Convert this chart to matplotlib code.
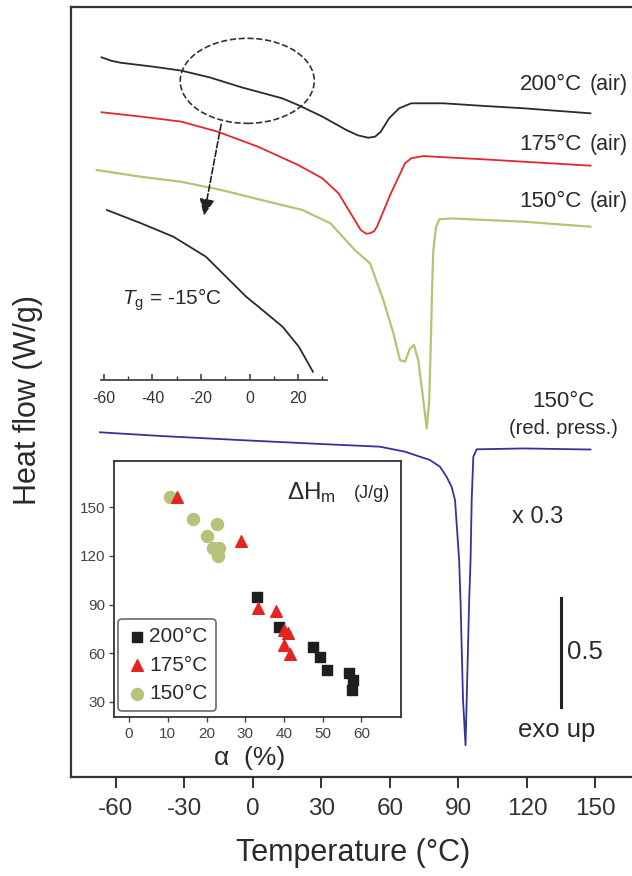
import matplotlib
matplotlib.use("Agg")
import matplotlib.pyplot as plt
from matplotlib.patches import Ellipse

plt.rcParams['font.family'] = ['Liberation Sans', 'DejaVu Sans']
plt.rcParams['mathtext.fontset'] = 'custom'
plt.rcParams['mathtext.rm'] = 'Liberation Sans'
plt.rcParams['mathtext.it'] = 'Liberation Sans:italic'
plt.rcParams['axes.unicode_minus'] = False

# DSC curves: temperature (°C) and heat flow (W/g, curves offset)
t_200 = [-66.3, -62.0, -57.9, -43.7, -31.4, -19.0, -4.9, 12.8, 19.8, 30.4, 41.0, 46.0, 50.5,
         53.5, 56.0, 59.6, 64.0, 69.3, 83.4, 101.0, 118.7, 147.8]
hf_200 = [3.306, 3.290, 3.281, 3.263, 3.245, 3.214, 3.168, 3.118, 3.087, 3.034, 2.972, 2.948, 2.937,
          2.942, 2.965, 3.026, 3.072, 3.095, 3.095, 3.083, 3.072, 3.049]

t_175 = [-66.3, -49.0, -31.4, -15.5, 2.2, 19.8, 30.4, 37.5, 42.8, 47.2, 49.5, 51.3, 53.0, 54.3,
         60.4, 66.6, 69.3, 74.5, 101.0, 147.8]
hf_175 = [3.054, 3.034, 3.011, 2.965, 2.896, 2.812, 2.751, 2.682, 2.590, 2.514, 2.497, 2.499, 2.508,
          2.529, 2.682, 2.820, 2.843, 2.853, 2.838, 2.809]

t_150 = [-68.4, -49.0, -31.4, -13.7, 3.9, 21.6, 34.0, 44.6, 51.3, 57.1, 61.5, 64.4, 66.6,
         68.8, 70.5, 72.4, 74.6, 76.1, 77.2, 78.0, 78.5, 79.0, 80.2, 81.6, 86.9, 118.7, 147.8]
hf_150 = [2.789, 2.758, 2.735, 2.697, 2.651, 2.606, 2.544, 2.422, 2.361, 2.193, 2.040, 1.917, 1.910,
          1.971, 1.986, 1.917, 1.734, 1.604, 1.734, 2.040, 2.269, 2.422, 2.529, 2.563, 2.567, 2.552, 2.529]

t_red = [-67.0, -40.2, -4.9, 30.4, 55.6, 66.6, 77.5, 81.9, 84.8, 87.0, 88.5, 90.3, 90.9, 92.0,
         93.1, 93.6, 94.7, 95.3, 95.8, 96.5, 98.0, 118.7, 147.8]
hf_red = [1.586, 1.569, 1.550, 1.532, 1.520, 1.497, 1.459, 1.428, 1.382, 1.336, 1.275, 1.000, 0.814,
          0.358, 0.151, 0.358, 0.817, 1.000, 1.275, 1.474, 1.508, 1.512, 1.507]

# zoomed glass transition (inset)
t_tg = [-58.8, -44.7, -31.4, -18.0, -9.7, -1.4, 5.3, 13.6, 20.3, 26.1]
hf_tg = [1.70, 1.567, 1.433, 1.233, 1.033, 0.833, 0.70, 0.533, 0.333, 0.083]

# melting enthalpy vs. alpha (inset)
alpha_200 = [33.0, 38.7, 47.6, 49.2, 51.2, 56.9, 57.7, 57.5]
dh_200 = [94.8, 75.9, 63.6, 57.8, 49.6, 47.5, 43.4, 37.2]
alpha_175 = [12.3, 28.8, 33.2, 37.9, 40.0, 41.1, 40.0, 41.6]
dh_175 = [156.5, 129.4, 88.0, 86.2, 74.3, 72.2, 65.0, 59.3]
alpha_150 = [10.6, 16.6, 22.6, 20.2, 21.6, 23.1, 22.9]
dh_150 = [156.2, 142.8, 139.5, 132.3, 124.7, 124.7, 119.9]

W, H = 632, 876
fig = plt.figure(figsize=(W / 100, H / 100), dpi=100)

# main axes
ax = fig.add_axes([70.5 / W, (H - 777) / H, 561.5 / W, 770.5 / H])
ax.plot(t_200, hf_200, color="#2a2a2a", lw=1.3)
ax.plot(t_175, hf_175, color="#e6262b", lw=1.3)
ax.plot(t_150, hf_150, color="#b7c275", lw=1.6)
ax.plot(t_red, hf_red, color="#33339a", lw=1.3)
ax.set_xlim(-79.9, 166)
ax.set_ylim(0.005, 3.539)
ax.set_xticks([-60, -30, 0, 30, 60, 90, 120, 150])
ax.set_yticks([])
ax.tick_params(axis="x", direction="out", length=8, width=1.4, labelsize=17.5,
               pad=7, colors="#333333")
for s in ["left", "bottom", "top"]:
    ax.spines[s].set_linewidth(1.6)
    ax.spines[s].set_color("#333333")
ax.spines["right"].set_visible(False)

fig.text(353 / W, 1 - 852.5 / H, "Temperature (°C)", fontsize=22, ha="center",
         va="center", color="#2a2a2a")
fig.text(28 / W, 1 - 400 / H, "Heat flow (W/g)", fontsize=22, rotation=90,
         ha="center", va="center", color="#2a2a2a")

# curve labels
lab_col = "#2a2a2a"
for yv, main in [(3.179, "200°C"), (2.904, "175°C"), (2.644, "150°C")]:
    ax.text(144.1, yv, main, fontsize=16, ha="right", va="center", color=lab_col)
    ax.text(164.3, yv, "(air)", fontsize=15.5, ha="right", va="center", color=lab_col)
ax.text(135.8, 1.726, "150°C", fontsize=16, ha="center", va="center", color=lab_col)
ax.text(135.8, 1.604, "(red. press.)", fontsize=14.5, ha="center", va="center", color=lab_col)
ax.text(124.8, 1.199, "x 0.3", fontsize=17, ha="center", va="center", color=lab_col)

# scale bar
ax.plot([134.9, 134.9], [0.324, 0.824], color="#222222", lw=2.2)
ax.text(137.4, 0.578, "0.5", fontsize=18.5, ha="left", va="center", color=lab_col)
ax.text(133.0, 0.22, "exo up", fontsize=18.5, ha="center", va="center", color=lab_col)

# dashed ellipse and arrow
ax.add_patch(Ellipse((-2.5, 3.198), 58.7, 0.39, fill=False, ls="--", lw=1.2, ec="#333333"))
ax.annotate("", xy=(-21.7, 2.567), xytext=(-13.7, 3.011),
            arrowprops=dict(arrowstyle="-|>,head_length=1.0,head_width=0.45",
                            ls="--", lw=1.2, color="#222222"))

# inset 1: glass transition
ax1 = fig.add_axes([100.8 / W, (H - 380) / H, 225.7 / W, 180 / H])
ax1.patch.set_visible(False)
ax1.plot(t_tg, hf_tg, color="#2a2a2a", lw=1.3)
ax1.set_xlim(-61.3, 31.7)
ax1.set_ylim(0, 1.8)
ax1.set_xticks([-60, -40, -20, 0, 20])
ax1.set_xticks([-50, -30, -10, 10, 30], minor=True)
ax1.set_yticks([])
ax1.tick_params(axis="x", which="major", direction="in", length=4, width=1.1,
                labelsize=11.5, pad=8, colors="#333333")
ax1.tick_params(axis="x", which="minor", direction="in", length=3, width=1.0, colors="#333333")
for s in ["left", "top", "right"]:
    ax1.spines[s].set_visible(False)
ax1.spines["bottom"].set_linewidth(1.3)
ax1.spines["bottom"].set_color("#444444")
ax1.text(-52.6, 0.8, r"$T_{\mathrm{g}}$ = -15°C", fontsize=15, ha="left", va="center",
         color=lab_col)

# inset 2: melting enthalpy
ax2 = fig.add_axes([114 / W, (H - 717.3) / H, 287 / W, 256.3 / H])
h200 = ax2.scatter(alpha_200, dh_200, marker="s", s=50, c="#1e1e1e", zorder=3, label="200°C")
h150 = ax2.scatter(alpha_150, dh_150, marker="o", s=75, c="#b9c27a", zorder=2, label="150°C")
h175 = ax2.scatter(alpha_175, dh_175, marker="^", s=70, c="#e52421", zorder=4, label="175°C")
ax2.set_xlim(-3.9, 70.2)
ax2.set_ylim(20.4, 178.6)
ax2.set_xticks([0, 10, 20, 30, 40, 50, 60])
ax2.set_yticks([30, 60, 90, 120, 150])
ax2.tick_params(direction="out", length=3.5, width=1.0, labelsize=11, colors="#444444")
ax2.tick_params(axis="x", pad=3.5)
ax2.tick_params(axis="y", pad=2.5)
for s in ax2.spines.values():
    s.set_linewidth(1.3)
    s.set_color("#333333")
ax2.text(0.474, -0.159, "α  (%)", fontsize=19, ha="center", va="center",
         transform=ax2.transAxes, color=lab_col)
ax2.text(0.603, 0.875, r"ΔH$_{\mathrm{m}}$", fontsize=17.5, ha="left", va="center",
         transform=ax2.transAxes, color=lab_col)
ax2.text(0.962, 0.872, "(J/g)", fontsize=13, ha="right", va="center",
         transform=ax2.transAxes, color=lab_col)
leg = ax2.legend(handles=[h200, h175, h150], loc="lower left", bbox_to_anchor=(0.014, 0.023),
                 borderaxespad=0, fontsize=15, frameon=True, fancybox=True,
                 handletextpad=0.1, handlelength=1.0, labelspacing=0.45, borderpad=0.4)
leg.get_frame().set_edgecolor("#444444")
leg.get_frame().set_linewidth(1.2)
for t in leg.get_texts():
    t.set_color(lab_col)

fig.savefig("out.png", dpi=100)
